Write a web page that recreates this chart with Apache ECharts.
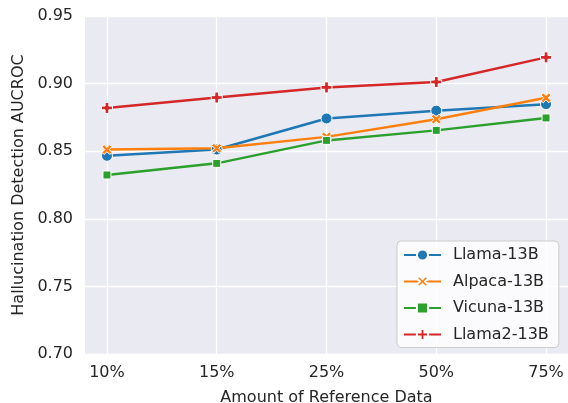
<!DOCTYPE html>
<html>
<head>
<meta charset="utf-8">
<script src="https://cdn.jsdelivr.net/npm/echarts@6/dist/echarts.min.js"></script>
<style>
  html, body { margin: 0; padding: 0; background: #fff; }
  #chart { width: 568px; height: 403px; }
</style>
</head>
<body>
<div id="chart"></div>
<script>
// data
let categories = ["10%", "15%", "25%", "50%", "75%"];
let llama13b = [0.8466, 0.8512, 0.8742, 0.8800, 0.8848];
let alpaca13b = [0.8512, 0.8522, 0.8606, 0.8737, 0.8895];
let vicuna13b = [0.8324, 0.8410, 0.8580, 0.8654, 0.8746];
let llama2_13b = [0.8820, 0.8897, 0.8972, 0.9012, 0.9194];

let xSymbol = "path://M0,2.2L2.2,0L5,2.8L7.8,0L10,2.2L7.2,5L10,7.8L7.8,10L5,7.2L2.2,10L0,7.8L2.8,5Z";
let plusSymbol = "path://M3.3,0H6.7V3.3H10V6.7H6.7V10H3.3V6.7H0V3.3H3.3Z";

let chartDom = document.getElementById("chart");
let chart = echarts.init(chartDom);

function makeSeries(name, values, color, symbol, size) {
    return {
        name: name,
        type: "line",
        data: values.map((v, i) => [i, v]),
        symbol: symbol,
        symbolSize: size,
        showAllSymbol: true,
        lineStyle: { color: color, width: 2.5 },
        itemStyle: { color: color, borderColor: "#ffffff", borderWidth: 1 },
        emphasis: { disabled: true },
        animation: false
    };
}

let font = "DejaVu Sans";
let option = {
    backgroundColor: "#ffffff",
    textStyle: { fontFamily: font },
    grid: {
        left: 85,
        right: 0,
        top: 16,
        bottom: 49,
        outerBoundsMode: "none",
        containLabel: false,
        show: true,
        backgroundColor: "#eaeaf2",
        borderWidth: 0
    },
    xAxis: {
        type: "value",
        min: -0.2,
        max: 4.2,
        name: "Amount of Reference Data",
        nameLocation: "middle",
        nameGap: 36,
        nameTextStyle: { fontSize: 16, color: "#262626", fontFamily: font },
        axisLine: { show: false },
        axisTick: { show: false, customValues: [0, 1, 2, 3, 4] },
        axisLabel: {
            customValues: [0, 1, 2, 3, 4],
            formatter: v => categories[Math.round(v)],
            fontSize: 16,
            color: "#262626",
            margin: 11,
            fontFamily: font
        },
        splitLine: { show: true, lineStyle: { color: "#ffffff", width: 1.3 } }
    },
    yAxis: {
        type: "value",
        min: 0.70,
        max: 0.95,
        interval: 0.05,
        name: "Hallucination Detection AUCROC",
        nameLocation: "middle",
        nameGap: 58,
        nameTextStyle: { fontSize: 16, color: "#262626", fontFamily: font },
        axisLine: { show: false },
        axisTick: { show: false },
        axisLabel: {
            formatter: v => v.toFixed(2),
            fontSize: 16,
            color: "#262626",
            margin: 12,
            fontFamily: font
        },
        splitLine: { show: true, lineStyle: { color: "#ffffff", width: 1.3 } }
    },
    legend: {
        orient: "vertical",
        left: 397,
        top: 241,
        padding: [6, 10, 5, 6],
        itemWidth: 37,
        itemHeight: 14,
        itemGap: 10.5,
        backgroundColor: "rgba(255,255,255,0.8)",
        borderColor: "#cccccc",
        borderWidth: 1,
        borderRadius: 4,
        textStyle: { fontSize: 16, color: "#262626", fontFamily: font, padding: [0, 0, 0, 7] },
        data: ["Llama-13B", "Alpaca-13B", "Vicuna-13B", "Llama2-13B"]
    },
    series: [
        makeSeries("Llama-13B", llama13b, "#1f77b4", "circle", 11),
        makeSeries("Alpaca-13B", alpaca13b, "#ff7f0e", xSymbol, 10),
        makeSeries("Vicuna-13B", vicuna13b, "#2ca02c", "rect", 8),
        makeSeries("Llama2-13B", llama2_13b, "#d62728", plusSymbol, 11)
    ]
};
option && chart.setOption(option);
</script>
</body>
</html>
